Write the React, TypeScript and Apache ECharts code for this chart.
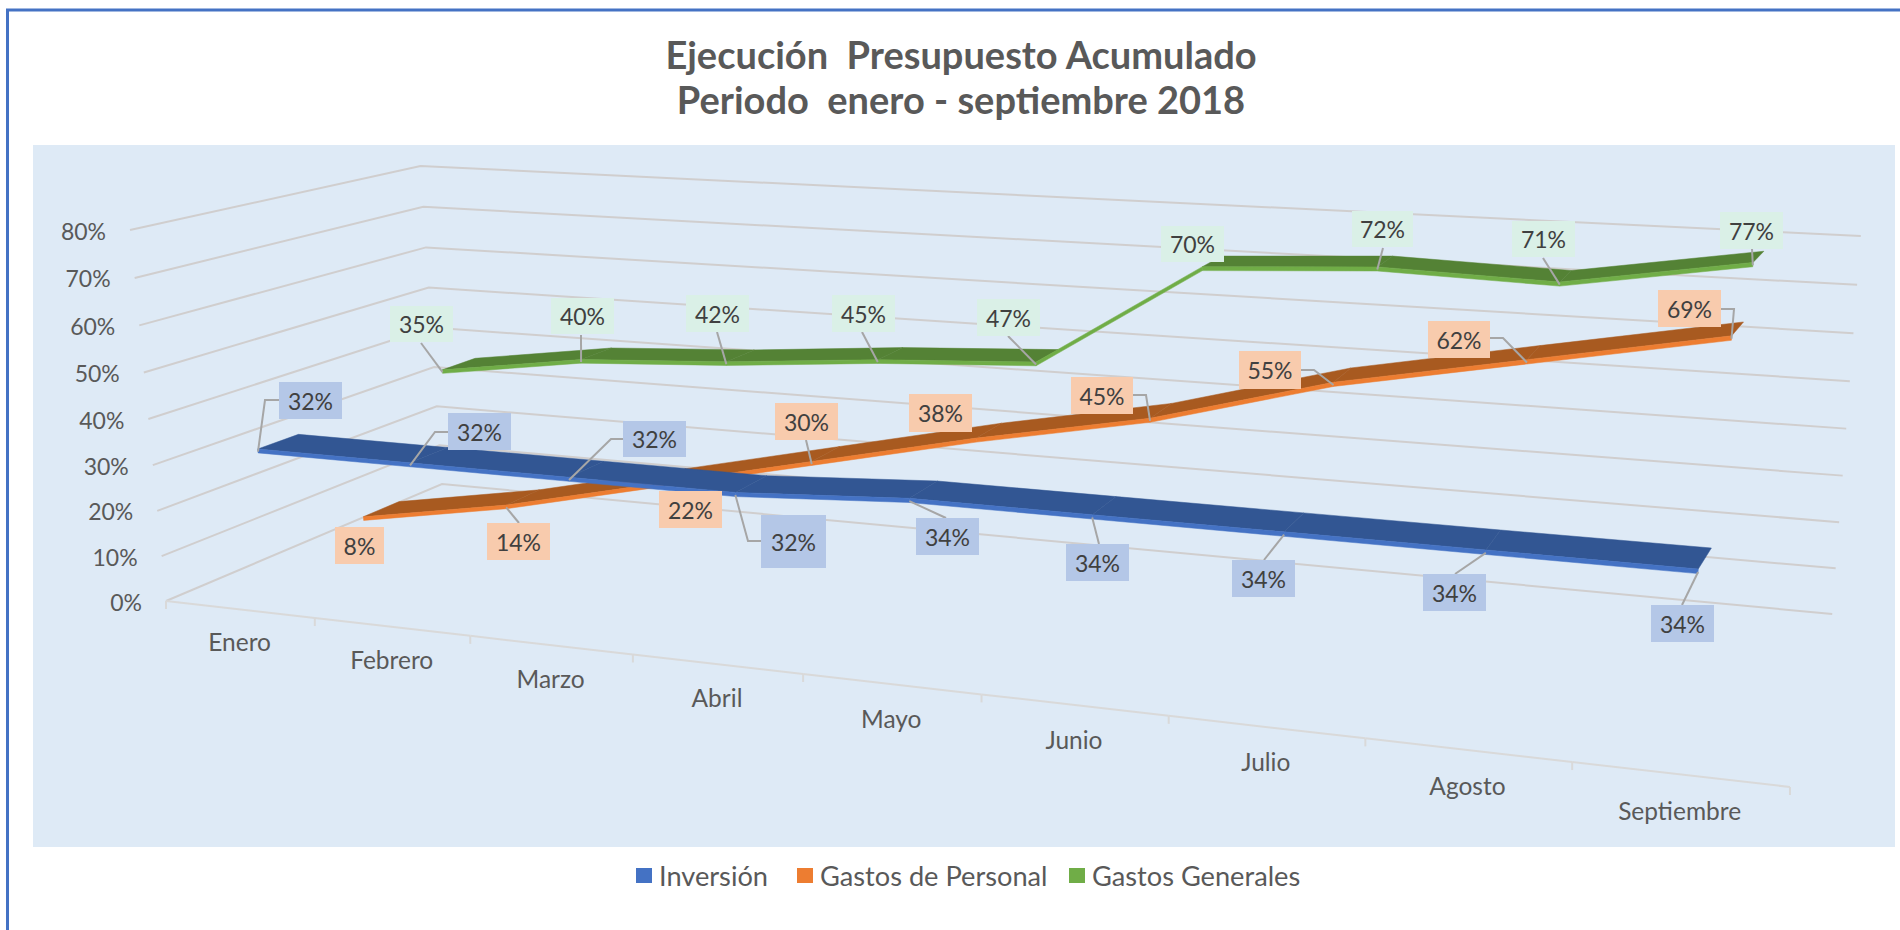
import React, { useEffect, useRef } from "react";
import * as echarts from "echarts";

const categories = ["Enero", "Febrero", "Marzo", "Abril", "Mayo", "Junio", "Julio", "Agosto", "Septiembre"];
const yTicks = [0, 10, 20, 30, 40, 50, 60, 70, 80];
const inversion = [32, 32, 32, 32, 34, 34, 34, 34, 34];
const gastosPersonal = [8, 14, 22, 30, 38, 45, 55, 62, 69];
const gastosGenerales = [35, 40, 42, 45, 47, 70, 72, 71, 77];
const seriesNames = ["Inversión", "Gastos de Personal", "Gastos Generales"];
const seriesValues = [inversion, gastosPersonal, gastosGenerales];

// styling per series: top face, front face, label box
const topColors = ["#325693", "#A85A20", "#548235"];
const sideColors = ["#4472C4", "#ED7D31", "#70AD47"];
const boxColors = ["#B4C7E7", "#F8CBAD", "#DAF0E7"];

// label callouts: box left, top, width, height, then leader start and optional elbow
type Callout = [number, number, number, number, number[] | null, number[] | null];
const calloutLayout: Callout[][] = [
  [
    [279, 382, 63, 37, [279, 400], [265, 400]],
    [448, 413, 63, 37, [448, 432], [435, 432]],
    [623, 421, 63, 36, [623, 439], [611, 439]],
    [761, 515, 65, 53, [761, 541], [748, 541]],
    [916, 518, 63, 37, [946, 518], null],
    [1066, 544, 63, 37, [1099, 544], null],
    [1232, 560, 63, 37, [1264, 560], null],
    [1423, 574, 63, 37, [1455, 574], null],
    [1651, 605, 63, 37, [1682, 605], null],
  ],
  [
    [335, 527, 49, 37, null, null],
    [487, 523, 63, 37, [519, 523], null],
    [659, 491, 63, 37, null, null],
    [775, 403, 63, 37, [806, 440], null],
    [909, 394, 63, 38, null, null],
    [1071, 377, 62, 37, [1132, 395], [1146, 395]],
    [1239, 351, 62, 38, [1300, 370], [1314, 370]],
    [1428, 321, 62, 37, [1490, 338], [1503, 338]],
    [1658, 290, 63, 37, [1721, 309], [1734, 309]],
  ],
  [
    [390, 306, 63, 36, [421, 343], null],
    [551, 298, 63, 36, [581, 335], null],
    [686, 295, 63, 37, [717, 332], null],
    [832, 295, 63, 37, [862, 332], null],
    [977, 299, 63, 37, [1008, 336], null],
    [1161, 226, 63, 36, null, null],
    [1352, 211, 61, 36, [1383, 248], null],
    [1512, 221, 63, 36, [1543, 258], null],
    [1720, 212, 63, 37, [1752, 249], null],
  ],
];

const FONT = "Lato, 'Noto Sans', sans-serif";
const GRID = { left: 33, top: 145, width: 1862, height: 702 };
const RIBBON_HALF_DEPTH = 0.067;
const RIBBON_UP = 0.55;
const RIBBON_DOWN = 0.3;
const END_CAP_PX = 4;

// Perspective camera of the 3-D box: t along categories, v up the value axis, z into the page
function project(t: number, v: number, z: number): number[] {
  const w = 1 - 0.193 * t - 0.037 * v + 0.174 * z;
  return [
    (166 + 1278.5 * t - 40.8 * v + 352.9 * z) / w,
    (601 + 34.1 * t - 379.5 * v - 32.8 * z) / w,
  ];
}

function toUnit(pt: number[]): number[] {
  return [(pt[0] - GRID.left) / GRID.width, (GRID.top + GRID.height - pt[1]) / GRID.height];
}

function point3d(api: any, cat: number, val: number, z: number): number[] {
  const [t, v] = toUnit(api.coord([cat, val]));
  return project(t, v, z);
}

function wallsRender(params: any, api: any) {
  const val = api.value(1);
  const v = toUnit(api.coord([0, val]))[1];
  const a = project(0, v, 0);
  const b = project(0, v, 1);
  const c = project(1, v, 1);
  return {
    type: "group",
    children: [
      {
        type: "polyline",
        shape: { points: [a, b, c] },
        style: { stroke: "#D0CECE", lineWidth: 2, fill: "none" },
      },
      {
        type: "text",
        style: {
          x: a[0] - 24,
          y: a[1] + 0.5,
          text: `${val}%`,
          fill: "#595959",
          font: `23px ${FONT}`,
          align: "right",
          verticalAlign: "middle",
        },
      },
    ],
  };
}

function floorRender(params: any, api: any) {
  const i = api.value(0);
  const t = toUnit(api.coord([i, 0]))[0];
  const band = 1 / categories.length;
  const children: any[] = [];
  const tick = (tt: number) => {
    const p = project(tt, 0, 0);
    children.push({
      type: "line",
      shape: { x1: p[0], y1: p[1], x2: p[0], y2: p[1] + 8 },
      style: { stroke: "#D9D9D9", lineWidth: 2 },
    });
  };
  const start = project(t - band / 2, 0, 0);
  const end = project(t + band / 2, 0, 0);
  children.push({
    type: "line",
    shape: { x1: start[0], y1: start[1], x2: end[0], y2: end[1] },
    style: { stroke: "#D9D9D9", lineWidth: 2 },
  });
  tick(t - band / 2);
  if (i === categories.length - 1) tick(t + band / 2);
  const mid = project(t, 0, 0);
  children.push({
    type: "text",
    style: {
      x: mid[0],
      y: mid[1] + 32 + 4 * t,
      text: categories[i],
      fill: "#595959",
      font: `24.5px ${FONT}`,
      align: "center",
      verticalAlign: "middle",
    },
  });
  return { type: "group", children };
}

function ribbonRender(s: number) {
  const values = seriesValues[s];
  const zc = (s + 0.5) / seriesValues.length;
  const z0 = zc - RIBBON_HALF_DEPTH;
  const z1 = zc + RIBBON_HALF_DEPTH;
  return (params: any, api: any) => {
    const i = api.value(0);
    if (i >= values.length - 1) return { type: "group", children: [] };
    const a = values[i];
    const b = values[i + 1];
    const f0 = point3d(api, i, a + RIBBON_UP, z0);
    const f1 = point3d(api, i + 1, b + RIBBON_UP, z0);
    const b0 = point3d(api, i, a + RIBBON_UP, z1);
    const b1 = point3d(api, i + 1, b + RIBBON_UP, z1);
    const d0 = point3d(api, i, a - RIBBON_DOWN, z0);
    const d1 = point3d(api, i + 1, b - RIBBON_DOWN, z0);
    // the ribbon's far end sticks out a little past its last point
    if (i === values.length - 2) b1[0] += END_CAP_PX;
    const children: any[] = [];
    // the top face is seen only while it does not tilt away from the viewer
    const cross = (f1[0] - f0[0]) * (b0[1] - f0[1]) - (f1[1] - f0[1]) * (b0[0] - f0[0]);
    if (cross < 0) {
      children.push({
        type: "polygon",
        shape: { points: [f0, f1, b1, b0] },
        style: { fill: topColors[s], stroke: topColors[s], lineWidth: 0.5 },
      });
    }
    children.push({
      type: "polygon",
      shape: { points: [f0, f1, d1, d0] },
      style: { fill: sideColors[s], stroke: sideColors[s], lineWidth: 0.5 },
    });
    return { type: "group", children };
  };
}

function calloutRender(params: any, api: any) {
  const i = api.value(0);
  const val = api.value(1);
  const s = api.value(2);
  const [left, top, w, h, from, elbow] = calloutLayout[s][i];
  const zc = (s + 0.5) / seriesValues.length;
  const anchor = point3d(api, i, val, zc - RIBBON_HALF_DEPTH);
  const children: any[] = [];
  if (from) {
    const points = elbow ? [from, elbow, anchor] : [from, anchor];
    children.push({
      type: "polyline",
      shape: { points },
      style: { stroke: "#A6A6A6", lineWidth: 2, fill: "none" },
    });
  }
  children.push({
    type: "rect",
    shape: { x: left, y: top, width: w, height: h },
    style: { fill: boxColors[s] },
  });
  children.push({
    type: "text",
    style: {
      x: left + w / 2,
      y: top + h / 2,
      text: `${val}%`,
      fill: "#404040",
      font: `23px ${FONT}`,
      align: "center",
      verticalAlign: "middle",
    },
  });
  return { type: "group", children };
}

const legendLefts = [636, 797, 1069];

export default function App() {
  const ref = useRef<HTMLDivElement>(null);
  useEffect(() => {
    document.body.style.margin = "0";
    document.body.style.overflow = "hidden";
    const chart = echarts.init(ref.current!, undefined, { renderer: "svg" });
    const ribbonOrder = [2, 1, 0];
    chart.setOption({
      animation: false,
      backgroundColor: "#FFFFFF",
      title: {
        text: "Ejecución  Presupuesto Acumulado\nPeriodo  enero - septiembre 2018",
        left: 956,
        textAlign: "center",
        top: 26,
        textStyle: { fontFamily: FONT, fontSize: 38, fontWeight: "bold", color: "#595959", lineHeight: 45 },
      },
      legend: seriesNames.map((name, s) => ({
        left: legendLefts[s],
        top: 862,
        padding: 0,
        itemWidth: 16,
        itemHeight: 15,
        itemGap: 0,
        data: [{ name, icon: "rect", itemStyle: { color: sideColors[s] } }],
        textStyle: { fontFamily: FONT, fontSize: 27.2, color: "#595959", padding: [0, 0, 0, 2] },
        selectedMode: false,
      })),
      grid: {
        ...GRID,
        show: true,
        backgroundColor: "#DEEAF6",
        borderWidth: 0,
      },
      xAxis: { type: "category", data: categories, show: false },
      yAxis: { type: "value", min: 0, max: 80, interval: 10, show: false },
      graphic: [
        {
          type: "polyline",
          z: 100,
          shape: { points: [[7.5, 940], [7.5, 10], [1910, 10]] },
          style: { stroke: "#4472C4", lineWidth: 3, fill: "none" },
        },
      ],
      series: [
        {
          type: "custom",
          name: "walls",
          z: 1,
          silent: true,
          data: yTicks.map((y) => [0, y]),
          encode: { x: 0, y: 1 },
          renderItem: wallsRender,
        },
        {
          type: "custom",
          name: "floor",
          z: 1,
          silent: true,
          data: categories.map((_, i) => [i, 0]),
          encode: { x: 0, y: 1 },
          renderItem: floorRender,
        },
        ...ribbonOrder.map((s, order) => ({
          type: "custom",
          name: seriesNames[s],
          z: 3 + order,
          silent: true,
          itemStyle: { color: sideColors[s] },
          data: seriesValues[s].map((v, i) => [i, v]),
          encode: { x: 0, y: 1 },
          renderItem: ribbonRender(s),
        })),
        {
          type: "custom",
          name: "labels",
          z: 10,
          silent: true,
          data: seriesValues.flatMap((vals, s) => vals.map((v, i) => [i, v, s])),
          encode: { x: 0, y: 1 },
          renderItem: calloutRender,
        },
      ],
    });
    return () => chart.dispose();
  }, []);
  return <div ref={ref} style={{ width: 1900, height: 930 }} />;
}
